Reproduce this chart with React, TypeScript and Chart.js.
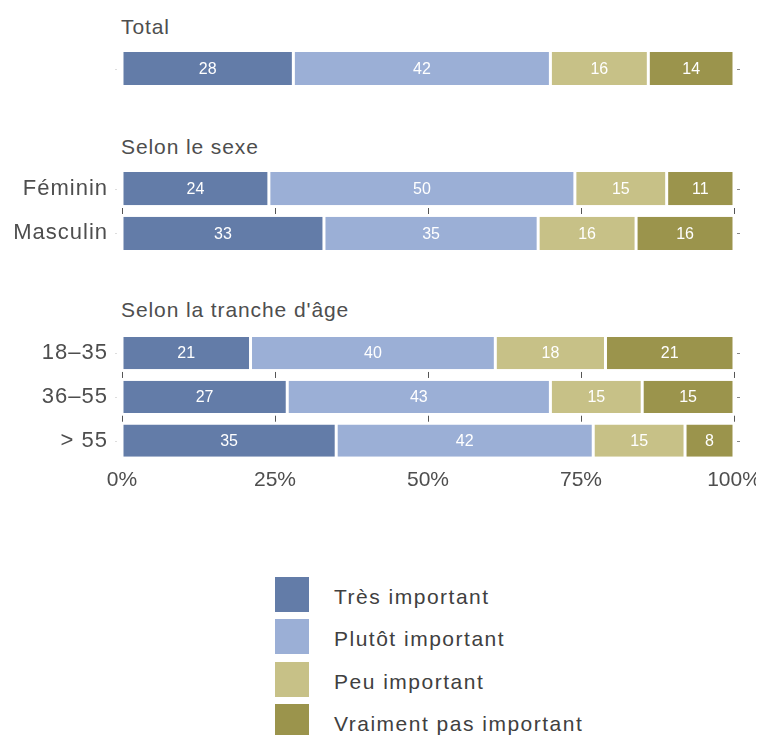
import React, { useEffect, useLayoutEffect, useRef } from "react";
import { Chart, registerables } from "chart.js";

Chart.register(...registerables);

const categories = ["Total", "Féminin", "Masculin", "18–35", "36–55", "> 55"];
const rowLabels = ["", "Féminin", "Masculin", "18–35", "36–55", "> 55"];
const groupTitles = ["Total", "Selon le sexe", "Selon la tranche d'âge"];
const groupRows = [[0], [1, 2], [3, 4, 5]];
const seriesNames = ["Très important", "Plutôt important", "Peu important", "Vraiment pas important"];
const tresImportant = [28, 24, 33, 21, 27, 35];
const plutotImportant = [42, 50, 35, 40, 43, 42];
const peuImportant = [16, 15, 16, 18, 15, 15];
const vraimentPas = [14, 11, 16, 21, 15, 8];
const seriesValues = [tresImportant, plutotImportant, peuImportant, vraimentPas];
const seriesColors = ["#637ca8", "#9bafd6", "#c7c187", "#9b944c"];
const xTicks = [0, 25, 50, 75, 100];

const FONT = "'Liberation Sans', Arial, sans-serif";
const TEXT = "#4e4e4e";

// panel layout (container coords)
const panels = [
  { top: 11, height: 99, titleTop: 6, showX: false },
  { top: 131, height: 144, titleTop: 126, showX: false },
  { top: 296, height: 194, titleTop: 289, showX: true },
];

const decorPlugin = {
  id: "decor",
  beforeDraw(chart: any) {
    chart.ctx.letterSpacing = "1px";
  },
  afterDatasetsDraw(chart: any) {
    const ctx = chart.ctx;
    const xs = chart.scales.x;
    const ys = chart.scales.y;
    const area = chart.chartArea;
    const n = chart.data.labels.length;
    ctx.letterSpacing = "0px";
    ctx.save();
    // value labels
    ctx.fillStyle = "#ffffff";
    ctx.font = "16px " + FONT;
    ctx.textAlign = "center";
    ctx.textBaseline = "middle";
    chart.data.datasets.forEach((ds: any, di: number) => {
      const meta = chart.getDatasetMeta(di);
      meta.data.forEach((bar: any, i: number) => {
        const v = ds.data[i];
        const cx = (bar.base + bar.x) / 2;
        ctx.fillText(String(v), cx, bar.y + 1);
      });
    });
    // ticks between rows
    ctx.strokeStyle = "#555555";
    ctx.lineWidth = 1;
    for (let i = 0; i < n - 1; i++) {
      const ym = (ys.getPixelForValue(i) + ys.getPixelForValue(i + 1)) / 2;
      xTicks.forEach((t) => {
        const x = Math.round(xs.getPixelForValue(t)) + 0.5;
        ctx.beginPath();
        ctx.moveTo(x, ym - 3);
        ctx.lineTo(x, ym + 3);
        ctx.stroke();
      });
    }
    // right side dashes and faint left dots
    for (let i = 0; i < n; i++) {
      const y = Math.round(ys.getPixelForValue(i)) + 0.5;
      ctx.strokeStyle = "#888888";
      ctx.beginPath();
      ctx.moveTo(area.right + 3, y);
      ctx.lineTo(area.right + 6, y);
      ctx.stroke();
      ctx.strokeStyle = "#dddddd";
      ctx.beginPath();
      ctx.moveTo(area.left - 7, y);
      ctx.lineTo(area.left - 5, y);
      ctx.stroke();
    }
    ctx.restore();
  },
  afterDraw(chart: any) {
    chart.ctx.letterSpacing = "0px";
  },
};

function PanelChart({ rows, showX, height }: { rows: number[]; showX: boolean; height: number }) {
  const ref = useRef<HTMLCanvasElement | null>(null);
  useEffect(() => {
    if (!ref.current) return;
    const chart = new Chart(ref.current, {
      type: "bar",
      data: {
        labels: rows.map((r) => rowLabels[r]),
        datasets: seriesNames.map((name, si) => ({
          label: name,
          data: rows.map((r) => seriesValues[si][r]),
          backgroundColor: seriesColors[si],
          borderColor: "#ffffff",
          borderWidth: { left: 1.5, right: 1.5, top: 0, bottom: 0 },
          borderSkipped: false,
          categoryPercentage: 1,
          barPercentage: 0.74,
        })),
      },
      options: {
        indexAxis: "y",
        animation: false,
        responsive: false,
        maintainAspectRatio: false,
        layout: { padding: { left: 0, right: 30, top: 0, bottom: 0 } },
        plugins: { legend: { display: false }, tooltip: { enabled: false } },
        scales: {
          x: {
            stacked: true,
            min: 0,
            max: 100,
            display: showX,
            grid: { display: false, drawTicks: false },
            border: { display: false },
            ticks: {
              z: 1,
              stepSize: 25,
              padding: 2,
              color: TEXT,
              font: { family: FONT, size: 21, lineHeight: 1.5 },
              callback: (v: any) => v + "%",
            },
          },
          y: {
            stacked: true,
            grid: { display: false, drawTicks: false },
            border: { display: false },
            ticks: { color: TEXT, padding: 14, font: { family: FONT, size: 22 } },
            afterFit: (s: any) => {
              s.width = 114;
            },
          },
        },
      },
      plugins: [decorPlugin],
    });
    return () => chart.destroy();
  }, []);
  return <canvas ref={ref} width={756} height={height} style={{ display: "block" }} />;
}

export default function App() {
  useLayoutEffect(() => {
    const root = document.getElementById("root");
    if (root) root.style.width = "756px";
  }, []);
  return (
    <div style={{ position: "relative", width: 756, height: 727, fontFamily: FONT }}>
      {panels.map((p, gi) => (
        <React.Fragment key={gi}>
          <div
            style={{
              position: "absolute",
              left: 113,
              top: p.titleTop,
              fontSize: 21,
              lineHeight: "26px",
              letterSpacing: "0.9px",
              color: TEXT,
              whiteSpace: "nowrap",
            }}
          >
            {groupTitles[gi]}
          </div>
          <div style={{ position: "absolute", left: 0, top: p.top, width: 756, height: p.height }}>
            <PanelChart rows={groupRows[gi]} showX={p.showX} height={p.height} />
          </div>
        </React.Fragment>
      ))}
      {seriesNames.map((name, si) => (
        <React.Fragment key={name}>
          <div
            style={{
              position: "absolute",
              left: 267,
              top: 569 + si * 42.3,
              width: 34,
              height: 35,
              background: seriesColors[si],
            }}
          />
          <div
            style={{
              position: "absolute",
              left: 326,
              top: 571 + si * 42.3,
              height: 35,
              lineHeight: "35px",
              fontSize: 21,
              letterSpacing: "1.5px",
              color: "#404040",
              whiteSpace: "nowrap",
            }}
          >
            {name}
          </div>
        </React.Fragment>
      ))}
    </div>
  );
}
